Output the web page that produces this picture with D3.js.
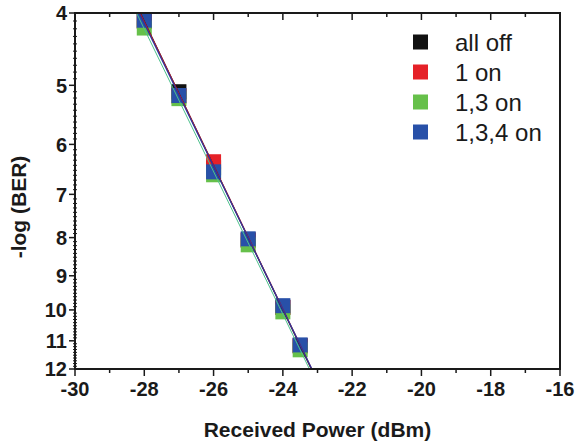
<meta charset="utf-8"/>
<html>
<head>
<script src="https://d3js.org/d3.v7.min.js"></script>
<style>
  * { margin: 0; padding: 0; }
  body { background: #fff; font-family: "Liberation Sans", Arial, sans-serif; }
</style>
</head>
<body>
<div id="chart"></div>
<script>
// received power (dBm) at each measurement
var powerAllOff = [-28, -27, -26, -25, -24, -23.5];
var powerOne    = [-28, -27, -26, -25, -24, -23.5];
var powerOneThree = [-28, -27, -26, -25, -24, -23.5];
var powerOneThreeFour = [-28, -27, -26, -25, -24, -23.5];

// -log(BER)
var berAllOff = [4.10, 5.10, 6.45, 8.06, 9.92, 11.17];
var berOne    = [4.10, 5.17, 6.33, 8.06, 9.92, 11.17];
var berOneThree = [4.19, 5.21, 6.59, 8.18, 10.06, 11.31];
var berOneThreeFour = [4.09, 5.16, 6.53, 8.03, 9.87, 11.14];

var seriesNames = ["all off", "1 on", "1,3 on", "1,3,4 on"];
var seriesColors = ["#111111", "#e52128", "#66c04a", "#2850a8"];
var lineColors = ["#111111", "#c01830", "#4cc08c", "#2838a0"];

var xTicks = [-30, -28, -26, -24, -22, -20, -18, -16];
var xMinor = [-29, -27, -25, -23, -21, -19, -17];
var yTicks = [4, 5, 6, 7, 8, 9, 10, 11, 12];

var series = [
  {x: powerAllOff, y: berAllOff},
  {x: powerOne, y: berOne},
  {x: powerOneThree, y: berOneThree},
  {x: powerOneThreeFour, y: berOneThreeFour}
];

var W = 576, H = 445;
// note: "top" is reserved on window, so use a margin object
var m = {left: 75, right: 560, top: 13, bottom: 369};

var svg = d3.select("#chart").append("svg")
  .attr("width", W).attr("height", H);

var x = d3.scaleLinear().domain([-30, -16]).range([m.left, m.right]);
// BER chart: log of -log(BER)
var y = d3.scaleLog().domain([4, 12]).range([m.top, m.bottom]);

var ink = "#1a1a1a";

// minor y ticks every 0.1
var yMinor = d3.range(40, 121).map(function(d) { return d / 10; })
  .filter(function(d) { return Math.abs(d - Math.round(d)) > 1e-6; });

var g = svg.append("g");

g.selectAll(".yminor").data(yMinor).enter().append("line")
  .attr("x1", m.left - 2).attr("x2", m.left + 2)
  .attr("y1", function(d) { return y(d); }).attr("y2", function(d) { return y(d); })
  .attr("stroke", ink).attr("stroke-width", 1);

g.selectAll(".ymajor").data(yTicks).enter().append("line")
  .attr("x1", m.left - 6).attr("x2", m.left)
  .attr("y1", function(d) { return y(d); }).attr("y2", function(d) { return y(d); })
  .attr("stroke", ink).attr("stroke-width", 1.5);

g.selectAll(".ylab").data(yTicks).enter().append("text")
  .attr("x", m.left - 8).attr("y", function(d) { return y(d); })
  .attr("dy", "0.36em").attr("text-anchor", "end")
  .attr("font-size", 20).attr("font-weight", "bold").attr("fill", ink)
  .text(function(d) { return d; });

// bottom ticks (outward) and top ticks (inward)
g.selectAll(".xmajor").data(xTicks).enter().append("line")
  .attr("x1", function(d) { return x(d); }).attr("x2", function(d) { return x(d); })
  .attr("y1", m.bottom).attr("y2", m.bottom + 7)
  .attr("stroke", ink).attr("stroke-width", 1.5);
g.selectAll(".xminor").data(xMinor).enter().append("line")
  .attr("x1", function(d) { return x(d); }).attr("x2", function(d) { return x(d); })
  .attr("y1", m.bottom).attr("y2", m.bottom + 4)
  .attr("stroke", ink).attr("stroke-width", 1.5);
g.selectAll(".xtmajor").data(xTicks).enter().append("line")
  .attr("x1", function(d) { return x(d); }).attr("x2", function(d) { return x(d); })
  .attr("y1", m.top).attr("y2", m.top + 7)
  .attr("stroke", ink).attr("stroke-width", 1.5);
g.selectAll(".xtminor").data(xMinor).enter().append("line")
  .attr("x1", function(d) { return x(d); }).attr("x2", function(d) { return x(d); })
  .attr("y1", m.top).attr("y2", m.top + 4)
  .attr("stroke", ink).attr("stroke-width", 1.5);

g.selectAll(".xlab").data(xTicks).enter().append("text")
  .attr("x", function(d) { return x(d); }).attr("y", m.bottom + 27)
  .attr("text-anchor", "middle")
  .attr("font-size", 20).attr("font-weight", "bold").attr("fill", ink)
  .text(function(d) { return d; });

// markers
var size = 15;
svg.append("clipPath").attr("id", "plotclip").append("rect")
  .attr("x", m.left).attr("y", m.top)
  .attr("width", m.right - m.left).attr("height", m.bottom - m.top);

var plot = svg.append("g").attr("clip-path", "url(#plotclip)");

series.forEach(function(s, i) {
  plot.selectAll(".pt" + i).data(s.x).enter().append("rect")
    .attr("x", function(d) { return x(d) - size / 2; })
    .attr("y", function(d, j) { return y(s.y[j]) - size / 2; })
    .attr("width", size).attr("height", size)
    .attr("fill", seriesColors[i]);
});

// linear fits in the transformed space
series.forEach(function(s, i) {
  var n = s.x.length;
  var t = s.y.map(function(v) { return Math.log10(v); });
  var mx = d3.mean(s.x), mt = d3.mean(t);
  var sxy = 0, sxx = 0;
  for (var k = 0; k < n; k++) {
    sxy += (s.x[k] - mx) * (t[k] - mt);
    sxx += (s.x[k] - mx) * (s.x[k] - mx);
  }
  var a = sxy / sxx, b = mt - a * mx;
  var ends = [4, 12].map(function(v) {
    var xv = (Math.log10(v) - b) / a;
    return [x(xv), y(v)];
  });
  plot.append("path")
    .attr("d", d3.line()(ends))
    .attr("stroke", lineColors[i]).attr("stroke-width", i === 2 ? 1 : 1.2)
    .attr("fill", "none");
});

// frame
svg.append("rect")
  .attr("x", m.left).attr("y", m.top)
  .attr("width", m.right - m.left).attr("height", m.bottom - m.top)
  .attr("fill", "none").attr("stroke", ink).attr("stroke-width", 2);

// legend
var leg = svg.append("g");
seriesNames.forEach(function(name, i) {
  var cy = 42 + i * 30;
  leg.append("rect")
    .attr("x", 413).attr("y", cy - 7.5).attr("width", 15).attr("height", 15)
    .attr("fill", seriesColors[i]);
  leg.append("text")
    .attr("x", 455).attr("y", cy).attr("dy", "0.36em")
    .attr("font-size", 24).attr("fill", ink)
    .text(name);
});

// axis titles
svg.append("text")
  .attr("x", (m.left + m.right) / 2).attr("y", 437)
  .attr("text-anchor", "middle")
  .attr("font-size", 21).attr("font-weight", "bold").attr("fill", ink)
  .text("Received Power (dBm)");

svg.append("text")
  .attr("transform", "translate(26,207) rotate(-90)")
  .attr("text-anchor", "middle")
  .attr("font-size", 21).attr("font-weight", "bold").attr("fill", ink)
  .text("-log (BER)");
</script>
</body>
</html>
